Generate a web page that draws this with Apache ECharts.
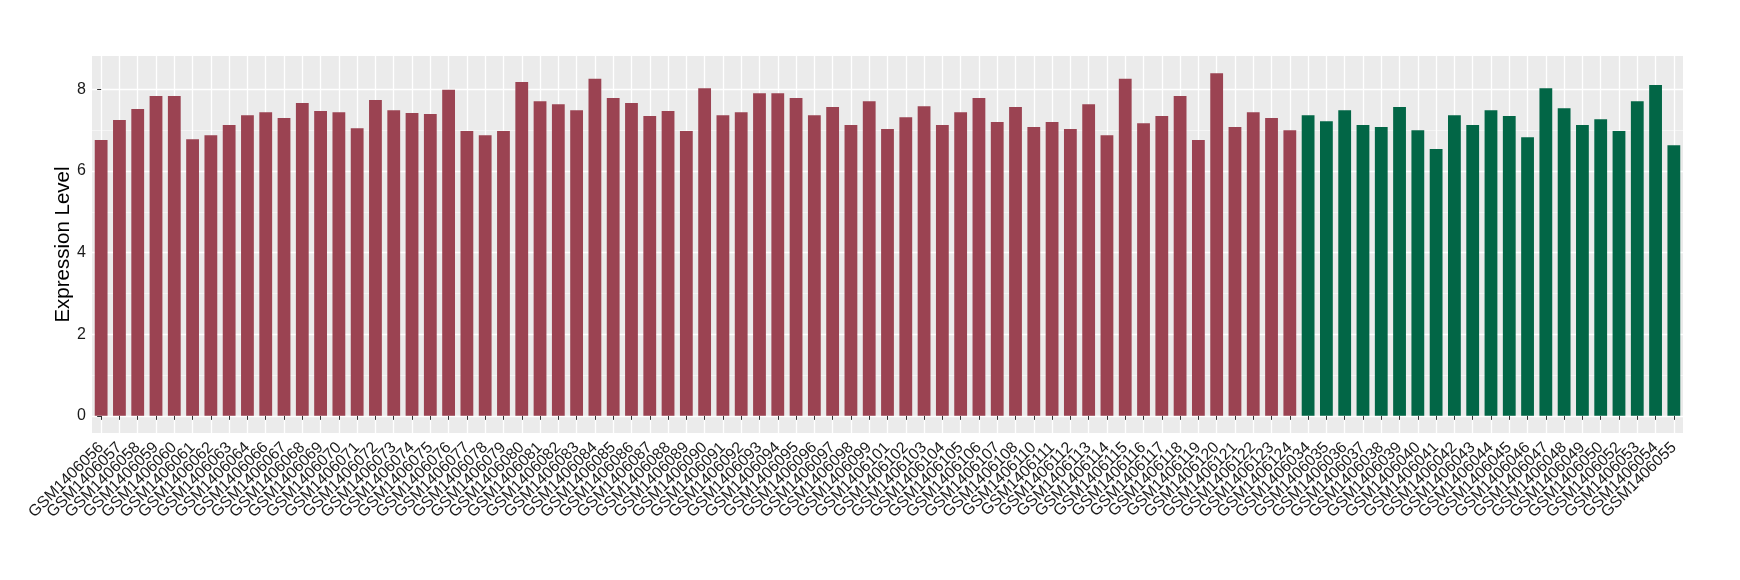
<!DOCTYPE html>
<html><head><meta charset="utf-8">
<script src="https://cdn.jsdelivr.net/npm/echarts@6/dist/echarts.min.js"></script>
<style>html,body{margin:0;padding:0;background:#fff}#c{width:1740px;height:580px}</style>
</head><body><div id="c"></div>
<script>
const redSamples = ['GSM1406056','GSM1406057','GSM1406058','GSM1406059','GSM1406060','GSM1406061','GSM1406062','GSM1406063','GSM1406064','GSM1406066','GSM1406067','GSM1406068','GSM1406069','GSM1406070','GSM1406071','GSM1406072','GSM1406073','GSM1406074','GSM1406075','GSM1406076','GSM1406077','GSM1406078','GSM1406079','GSM1406080','GSM1406081','GSM1406082','GSM1406083','GSM1406084','GSM1406085','GSM1406086','GSM1406087','GSM1406088','GSM1406089','GSM1406090','GSM1406091','GSM1406092','GSM1406093','GSM1406094','GSM1406095','GSM1406096','GSM1406097','GSM1406098','GSM1406099','GSM1406101','GSM1406102','GSM1406103','GSM1406104','GSM1406105','GSM1406106','GSM1406107','GSM1406108','GSM1406110','GSM1406111','GSM1406112','GSM1406113','GSM1406114','GSM1406115','GSM1406116','GSM1406117','GSM1406118','GSM1406119','GSM1406120','GSM1406121','GSM1406122','GSM1406123','GSM1406124'];
const redValues = [6.76,7.25,7.52,7.84,7.84,6.78,6.88,7.13,7.37,7.44,7.30,7.67,7.47,7.44,7.05,7.74,7.49,7.42,7.40,7.99,6.98,6.88,6.98,8.18,7.71,7.64,7.49,8.26,7.79,7.67,7.35,7.47,6.98,8.03,7.37,7.44,7.91,7.91,7.79,7.37,7.57,7.13,7.71,7.03,7.32,7.59,7.13,7.44,7.79,7.20,7.57,7.08,7.20,7.03,7.64,6.88,8.26,7.17,7.35,7.84,6.76,8.40,7.08,7.44,7.30,7.00];
const greenSamples = ['GSM1406034','GSM1406035','GSM1406036','GSM1406037','GSM1406038','GSM1406039','GSM1406040','GSM1406041','GSM1406042','GSM1406043','GSM1406044','GSM1406045','GSM1406046','GSM1406047','GSM1406048','GSM1406049','GSM1406050','GSM1406052','GSM1406053','GSM1406054','GSM1406055'];
const greenValues = [7.37,7.22,7.49,7.13,7.08,7.57,7.00,6.54,7.37,7.13,7.49,7.35,6.83,8.03,7.54,7.13,7.27,6.98,7.71,8.11,6.63];
const yTicks = [0,2,4,6,8];
const yMinorTicks = [1,3,5,7];
const yRange = [-0.42, 8.82];
const yTitle = 'Expression Level';

const RED = '#9B4352', GREEN = '#026646';
const categories = redSamples.concat(greenSamples);
const barData = redValues.map(v => ({value: v, itemStyle: {color: RED}}))
  .concat(greenValues.map(v => ({value: v, itemStyle: {color: GREEN}})));
const centerIdx = categories.map((c, i) => i);

const chart = echarts.init(document.getElementById('c'), null, {renderer: 'canvas'});
const font = "'Liberation Sans', Arial, Helvetica, sans-serif";
chart.setOption({
  animation: false,
  backgroundColor: '#fff',
  grid: {left: 92, right: 57, top: 56, bottom: 147, show: true, backgroundColor: '#EBEBEB', borderWidth: 0},
  xAxis: [{
    type: 'category', data: categories, boundaryGap: true,
    axisLine: {show: false},
    axisTick: {show: true, alignWithLabel: true, length: 4, lineStyle: {color: '#333', width: 1}},
    axisLabel: {interval: 0, rotate: 45, margin: 12, color: '#1a1a1a', fontSize: 16, fontFamily: font},
    splitLine: {show: false}
  }, {
    type: 'value', min: -0.5, max: categories.length - 0.5, position: 'top',
    axisLine: {show: false}, axisLabel: {show: false},
    axisTick: {show: false, customValues: centerIdx},
    splitLine: {show: true, lineStyle: {color: '#fff', width: 1.3}}
  }],
  yAxis: [{
    type: 'value', min: yRange[0], max: yRange[1],
    name: yTitle, nameLocation: 'middle', nameGap: 18, nameMoveOverlap: false,
    nameTextStyle: {fontSize: 20.5, color: '#000', fontFamily: font},
    axisLine: {show: false},
    axisTick: {show: true, length: 4, customValues: yTicks, lineStyle: {color: '#333', width: 1}},
    axisLabel: {customValues: yTicks, margin: 6, color: '#1a1a1a', fontSize: 16, fontFamily: font},
    splitLine: {show: true, lineStyle: {color: '#fff', width: 1.3}}
  }, {
    type: 'value', min: yRange[0], max: yRange[1], position: 'left',
    axisLine: {show: false}, axisLabel: {show: false},
    axisTick: {show: false, customValues: yMinorTicks},
    splitLine: {show: true, lineStyle: {color: '#F7F7F7', width: 0.8}}
  }],
  series: [{
    type: 'bar', xAxisIndex: 0, yAxisIndex: 0, data: barData,
    barWidth: '70%', z: 2
  }]
});
</script></body></html>
